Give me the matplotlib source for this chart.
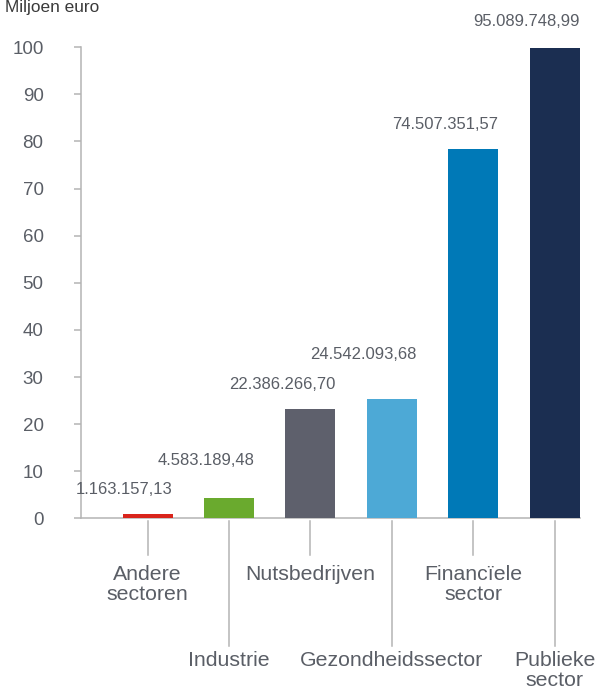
import matplotlib.pyplot as plt
import numpy as np

plt.rcParams['font.family'] = ['Liberation Sans', 'DejaVu Sans']

# Gegevens (hoogte van de balken in miljoen euro, zoals getekend)
sectoren = ['Andere\nsectoren', 'Industrie', 'Nutsbedrijven', 'Gezondheidssector',
            'Financïele\nsector', 'Publieke\nsector']
hoogtes = [0.92, 4.38, 23.3, 25.4, 78.4, 99.8]
labels = ['1.163.157,13', '4.583.189,48', '22.386.266,70', '24.542.093,68',
          '74.507.351,57', '95.089.748,99']
kleuren = ['#d9241b', '#6aaa2e', '#5e606c', '#4da9d6', '#0079b7', '#1b2e51']

# extra ruimte boven sommige balken (zoals in het origineel)
extra = [0.0, 2.8, 0.0, 4.3, 0.0, 0.5]
lange_streep = [False, True, False, True, False, True]

tekstkleur = '#5a5e66'
lijnkleur = '#b4b4b4'

fig = plt.figure(figsize=(6.06, 6.91), dpi=100)
ax = fig.add_axes([81 / 606, 1 - 518.3 / 691, 499 / 606, 471 / 691])

x = np.arange(len(sectoren))
breedte = 0.614
ax.bar(x, hoogtes, width=breedte, color=kleuren, zorder=3)

ax.set_xlim(-0.818, 5.31)
ax.set_ylim(0, 100)
ax.set_yticks(range(0, 101, 10))
ax.tick_params(axis='y', length=5, width=1.1, color=lijnkleur, pad=22,
               labelsize=13.5, labelcolor=tekstkleur)
ax.set_xticks([])

for s in ['top', 'right']:
    ax.spines[s].set_visible(False)
for s in ['left', 'bottom']:
    ax.spines[s].set_color(lijnkleur)
    ax.spines[s].set_linewidth(1.1)

# waarden boven de balken, rechts uitgelijnd op de balkrand
for i, (h, t) in enumerate(zip(hoogtes, labels)):
    ax.text(i + breedte / 2, h + 4.2 + extra[i], t, ha='right', va='baseline',
            fontsize=12, color=tekstkleur, clip_on=False, zorder=4)

# categorielabels met verbindingsstreepjes
for i, naam in enumerate(sectoren):
    onder = -27.1 if lange_streep[i] else -7.8
    ax.plot([i, i], [-0.6, onder], color=lijnkleur, lw=1.1, clip_on=False)
    ax.text(i, onder - (2.1 if not lange_streep[i] else 1.1), naam,
            ha='center', va='top', fontsize=15.3,
            color=tekstkleur, linespacing=1.05, clip_on=False)

fig.text(5 / 606, 1 - 12 / 691, 'Miljoen euro', ha='left', va='baseline',
         fontsize=12.4, color='#3a3a3a')

plt.savefig('out.png', dpi=100)
